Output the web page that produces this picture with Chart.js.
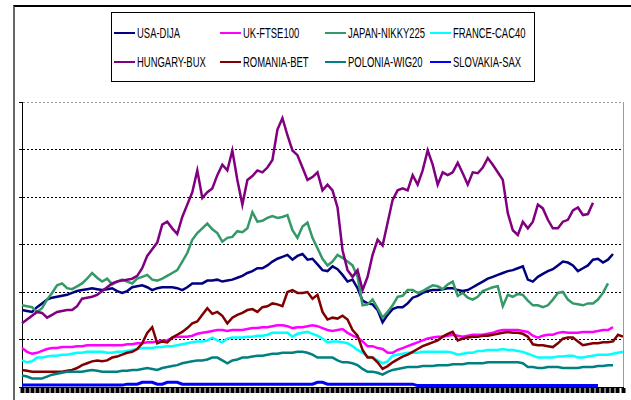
<!DOCTYPE html>
<html>
<head>
<meta charset="utf-8">
<script src="https://cdn.jsdelivr.net/npm/chart.js@4"></script>
<style>
  html, body { margin: 0; padding: 0; background: #fff; }
  #wrap { position: relative; width: 631px; height: 400px; overflow: hidden; }
  #frame { position: absolute; left: 13px; top: 5px; right: -4px; bottom: -4px;
           border-top: 2px solid #000; border-left: 2px solid #666; }
  #legend { position: absolute; left: 111px; top: 12px; width: 422px; height: 68px;
            border: 1px solid #000; background: #fff; }
  .item { position: absolute; height: 16px; }
  .item i { position: absolute; left: 0; top: 7px; width: 21px; height: 2px; }
  .item span { position: absolute; left: 23px; top: -1px; white-space: nowrap;
               font: 15px "Liberation Sans", Arial, sans-serif; color: #000;
               transform: scaleX(0.63); transform-origin: left center; }
  canvas { position: absolute; left: 0; top: 0; }
</style>
</head>
<body>
<div id="wrap">
  <div id="frame"></div>
  <canvas id="chart" width="631" height="400"></canvas>
  <div id="legend"></div>
</div>
<script>
// trading-day index along the x axis
const days = Array.from({length: 121}, (_, i) => i + 1);

const seriesNames = ['USA-DIJA', 'UK-FTSE100', 'JAPAN-NIKKY225', 'FRANCE-CAC40',
  'HUNGARY-BUX', 'ROMANIA-BET', 'POLONIA-WIG20', 'SLOVAKIA-SAX'];
const seriesColors = ['#000080', '#ff00ff', '#339966', '#00ffff',
  '#800080', '#800000', '#008080', '#0000ff'];

const usaDija = [81,80,79,84,88,92,94,95,96,97, 99,101,102,103,104,103,102,103,104,101,
  99,101,105,106,107,105,102,104,105,105, 105,104,102,105,109,109,109,112,112,113,
  111,112,113,115,117,120,122,125,125,128, 132,135,137,139,134,138,140,134,135,129,
  123,122,127,124,118,111,113,104,91,88, 87,81,68,76,82,84,84,88,94,96,
  99,101,102,102,103,104,104,102,101,102, 105,108,111,114,116,118,120,122,123,125,
  127,113,111,116,119,122,124,128,132,131, 128,122,125,128,134,135,131,134,140, null,null];

const ukFtse = [41,37,35,36,38,40,41,41,42,42, 42,43,43,44,44,44,44,44,44,44,
  44,45,45,46,46,47,47,48,49,49, 52,53,53,53,54,56,57,58,59,60,
  60,59,60,60,60,61,62,62,63,63, 64,65,65,64,62,63,63,64,65,64,
  62,60,59,60,61,57,54,52,48,43, 43,41,40,36,36,39,41,43,45,47,
  49,51,52,53,53,54,55,54,53,54, 55,55,55,56,57,59,60,60,60,60,
  59,58,54,52,54,55,55,57,58,57, 57,57,58,58,58,59,60,60,63, null,null];

const japanNikky = [86,85,84,79,83,92,99,107,109,104, 103,106,109,114,120,115,111,114,108,111,
  113,111,109,114,116,118,113,112,114,117, 120,123,132,141,155,162,167,172,166,162,
  153,157,158,164,163,167,184,174,175,178, 180,178,179,181,165,157,169,173,157,146,
  135,128,132,139,136,132,128,116,86,87, 92,83,73,79,86,95,96,102,102,99,
  101,104,107,106,103,108,111,96,99,94, 92,95,101,103,105,106,85,97,95,98,
  97,91,86,86,84,86,92,99,100,92, 88,87,86,88,88,92,99,109, null,null,null];

const franceCac = [28,26,27,31,31,32,33,33,34,34, 35,36,36,37,37,37,37,36,36,37,
  37,38,39,40,41,41,41,42,42,43, 43,44,45,46,47,48,48,49,52,49,
  47,51,52,52,52,53,53,54,54,55, 57,57,57,57,53,56,57,58,56,54,
  51,47,48,48,47,46,43,39,36,32, 31,28,25,27,33,34,35,36,36,36,
  37,37,37,37,37,37,36,34,35,36, 36,38,38,39,39,39,40,39,39,38,
  37,35,33,31,31,31,31,32,32,33, 33,31,31,32,33,34,34,34,35,36, 37];

const hungaryBux = [67,71,75,79,78,73,76,79,80,81, 81,85,93,94,95,97,101,105,109,111,
  112,113,114,117,125,138,145,152,171,174, 167,161,179,192,205,228,199,205,209,223,
  234,228,249,218,192,218,222,228,226,231, 239,271,283,265,249,244,231,218,221,226,
  207,213,207,189,144,123,116,123,102,116, 139,155,149,173,197,207,209,207,223,213,
  228,249,234,213,226,223,226,236,225,213, 226,225,231,241,234,226,218,183,165,160,
  174,167,174,192,188,176,167,167,174,176, 186,189,181,182,194, null,null,null,null,null,null];

const romaniaBet = [18,17,16,16,16,16,16,16,16,17, 18,20,23,25,27,28,27,28,31,32,
  34,36,37,40,46,57,63,46,48,47, 52,55,58,62,67,69,76,83,77,79,
  75,67,73,76,78,81,82,79,84,85, 88,87,85,100,102,99,99,100,93,97,
  79,71,73,72,75,71,60,54,39,31, 31,26,19,22,26,29,32,34,37,40,
  43,45,47,49,53,56,58,49,51,52, 53,53,54,54,55,56,57,58,57,57,
  56,53,45,44,44,43,42,46,51,52, 52,48,44,45,46,46,47,47,48,55, 53];

const poloniaWig = [12,11,9,9,9,11,13,14,15,16, 16,16,16,17,18,17,16,16,16,16,
  17,17,18,18,19,20,19,18,20,21, 22,23,25,26,27,28,28,29,31,31,
  28,25,28,29,31,31,32,33,33,34, 35,35,36,36,36,37,37,36,34,31,
  31,31,31,28,26,26,25,23,19,16, 16,15,13,16,18,19,20,21,21,21,
  22,22,22,23,23,23,24,24,24,25, 25,25,25,26,26,26,26,26,26,26,
  25,21,21,20,20,21,21,21,20,20, 20,20,21,21,21,22,22,23,23, null,null];

const slovakiaSax = [2,2,2,2,2,2,2,2,2,2, 2,2,2,2,2,2,2,2,2,2,
  2,3,3,3,5,5,5,3,3,5, 5,5,3,3,3,3,3,3,3,3,
  3,3,3,3,3,3,3,3,3,3, 3,3,3,3,3,3,3,3,3,5,
  5,3,3,3,3,3,3,3,3,3, 3,3,3,3,3,3,3,3,3,1.5,
  1.5,1.5,1.5,1.5,1.5,1.5,1.5,1.5,1.5,1.5, 1.5,1.5,1.5,1.5,1.5,1.5,1.5,1.5,1.5,1.5,
  1.5,1.5,1.5,1.5,1.5,1.5,1.5,1.5,1.5,1.5, 1.5,1.5,1.5,1.5,1.5,1.5, null,null,null,null,null];

const seriesData = [usaDija, ukFtse, japanNikky, franceCac,
  hungaryBux, romaniaBet, poloniaWig, slovakiaSax];

// legend, two rows of four
const legendEl = document.getElementById('legend');
const colLeft = [2, 108, 213, 318];
const rowTop = [12, 41];
seriesNames.forEach((name, i) => {
  const item = document.createElement('div');
  item.className = 'item';
  item.style.left = colLeft[i % 4] + 'px';
  item.style.top = rowTop[Math.floor(i / 4)] + 'px';
  item.innerHTML = `<i style="background:${seriesColors[i]}"></i><span>${name}</span>`;
  legendEl.appendChild(item);
});

// right edge of the plot area
const plotEdge = {
  id: 'plotEdge',
  afterDraw(chart) {
    const {ctx, chartArea} = chart;
    ctx.save();
    ctx.strokeStyle = '#9a9a9a';
    ctx.lineWidth = 1;
    ctx.beginPath();
    ctx.moveTo(chartArea.right + 0.5, chartArea.top);
    ctx.lineTo(chartArea.right + 0.5, chartArea.bottom);
    ctx.stroke();
    ctx.restore();
  }
};

new Chart(document.getElementById('chart'), {
  type: 'line',
  data: {
    labels: days,
    datasets: seriesData.map((data, i) => ({
      label: seriesNames[i],
      data,
      borderColor: seriesColors[i],
      backgroundColor: seriesColors[i],
      borderWidth: i === 7 ? 3 : 2.5,
      pointRadius: 0,
      tension: 0,
      order: seriesData.length - i,
    })),
  },
  options: {
    responsive: false,
    animation: false,
    events: [],
    layout: { padding: { left: 19, top: 102, right: 8, bottom: 7 } },
    plugins: { legend: { display: false }, tooltip: { enabled: false } },
    scales: {
      x: {
        ticks: { display: false, autoSkip: false },
        grid: { drawOnChartArea: false, drawTicks: true, tickLength: 6,
                tickColor: '#000', tickWidth: 4 },
        border: { color: '#000', width: 1 },
        afterFit(scale) { scale.height = 6; },
      },
      y: {
        min: 0,
        max: 300,
        ticks: { display: false, stepSize: 50 },
        grid: {
          color: (c) => c.tick && c.tick.value === 300 ? '#9a9a9a' : '#000',
          tickColor: '#000',
          tickLength: 3,
          lineWidth: 1,
        },
        border: { color: '#000', width: 1, dash: [2, 2] },
        afterFit(scale) { scale.width = 3; },
      },
    },
  },
  plugins: [plotEdge],
});
</script>
</body>
</html>
